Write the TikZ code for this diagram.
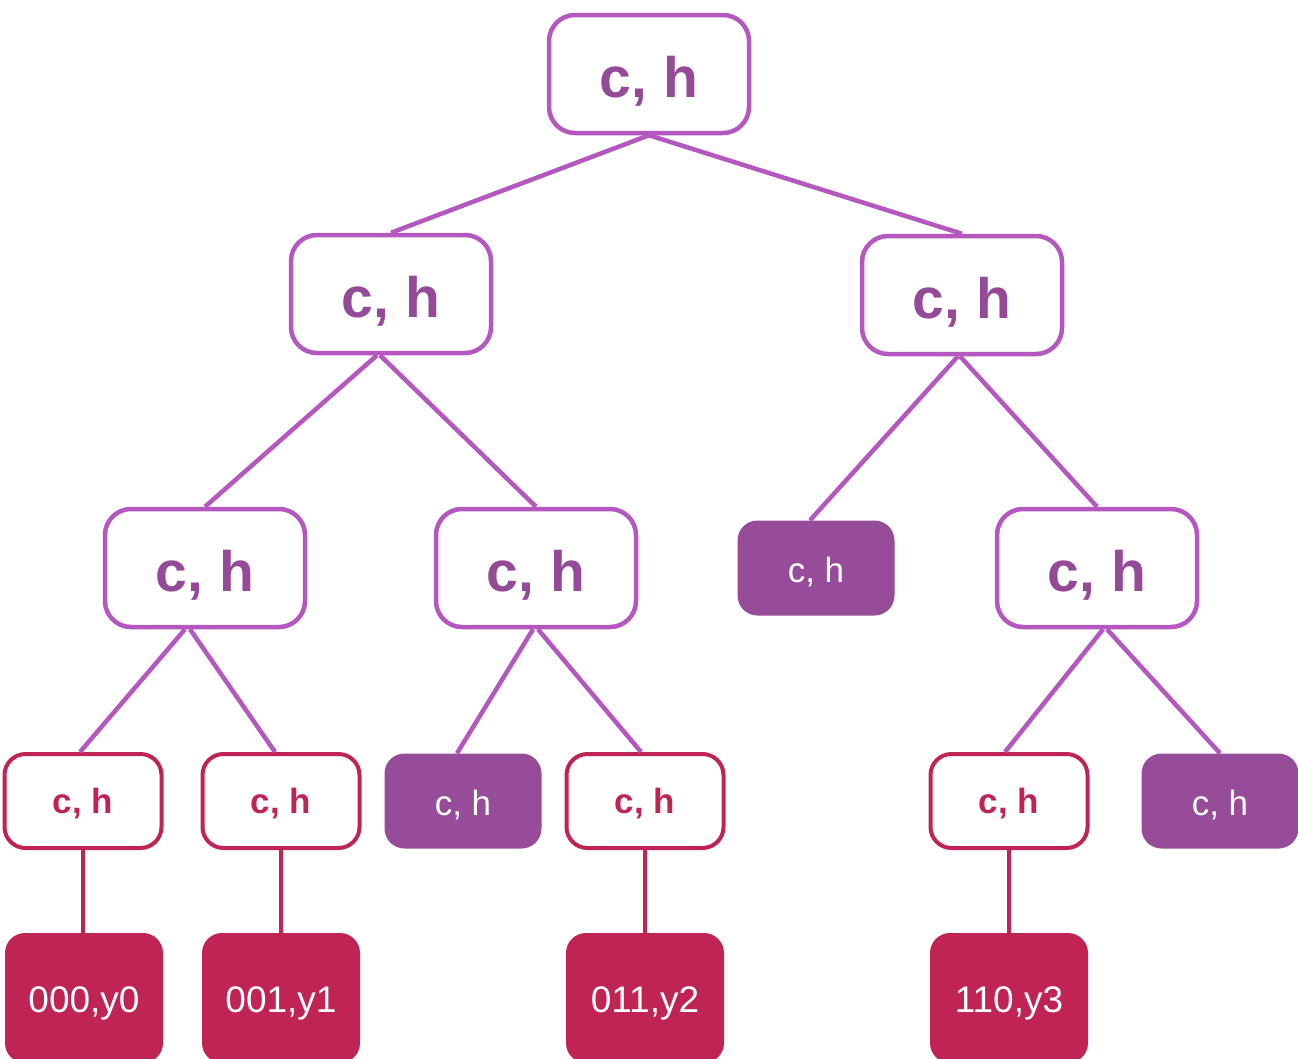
\documentclass[tikz,border=0pt]{standalone}
\usepackage{fontspec}
\setmainfont{Liberation Sans}
\definecolor{lineviolet}{HTML}{B457BE}
\definecolor{textviolet}{HTML}{944A96}
\definecolor{fillviolet}{HTML}{964C98}
\definecolor{crimson}{HTML}{C02454}
\tikzset{
  bigbox/.style={draw=lineviolet, line width=4.5pt, rounded corners=26pt, fill=white,
    minimum width=200pt, minimum height=118pt, inner sep=0pt,
    text height=46pt, text depth=0pt,
    text=textviolet, font=\fontsize{57}{57}\selectfont\bfseries},
  violetleaf/.style={fill=fillviolet, rounded corners=20pt,
    minimum width=157pt, minimum height=95pt, inner sep=0pt,
    text height=28pt, text depth=0pt,
    text=white, font=\fontsize{35}{35}\selectfont},
  smallbox/.style={draw=crimson, line width=4pt, rounded corners=21pt, fill=white,
    minimum width=157pt, minimum height=94pt, inner sep=0pt,
    text height=25pt, text depth=0pt,
    text=crimson, font=\fontsize{35}{35}\selectfont\bfseries},
  valbox/.style={fill=crimson, rounded corners=20pt,
    minimum width=158pt, minimum height=130pt, inner sep=0pt,
    text height=28pt, text depth=0pt,
    text=white, font=\fontsize{37}{37}\selectfont},
  violetedge/.style={draw=lineviolet, line width=4.5pt},
  crimsonedge/.style={draw=crimson, line width=4.5pt},
}
\begin{document}
\begin{tikzpicture}[x=1pt,y=-1pt]
\useasboundingbox (0,0) rectangle (1298,1058);
\clip (0,0) rectangle (1298,1058);
\fill[white] (0,0) rectangle (1298,1058);

% internal nodes
\node[bigbox] (r)  at (649,74)  {c, h};
\node[bigbox] (l)  at (391,294) {c, h};
\node[bigbox] (rr) at (962,295) {c, h};
\node[bigbox] (a)  at (205,568) {c, h};
\node[bigbox] (b)  at (536,568) {c, h};
\node[violetleaf] (c) at (816,568) {c, h};
\node[bigbox] (d)  at (1097,568) {c, h};

% lowest hash level
\node[smallbox] (a1) at (83,801)   {c, h};
\node[smallbox] (a2) at (281,801)  {c, h};
\node[violetleaf] (b1) at (463,801) {c, h};
\node[smallbox] (b2) at (645,801)  {c, h};
\node[smallbox] (d1) at (1009,801) {c, h};
\node[violetleaf] (d2) at (1220,801) {c, h};

% stored values
\node[valbox] (v0) at (84,998)   {000,y0};
\node[valbox] (v1) at (281,998)  {001,y1};
\node[valbox] (v2) at (645,998)  {011,y2};
\node[valbox] (v3) at (1009,998) {110,y3};

% tree edges
\draw[violetedge] (r.south) -- (l.north);
\draw[violetedge] (r.south) -- (rr.north);
\draw[violetedge] ([xshift=-14pt]l.south) -- (a.north);
\draw[violetedge] ([xshift=-11pt]l.south) -- (b.north);
\draw[violetedge] ([xshift=-4pt]rr.south) -- ([xshift=-6pt]c.north);
\draw[violetedge] ([xshift=-2pt]rr.south) -- (d.north);
\draw[violetedge] ([xshift=-20pt]a.south) -- ([xshift=-3pt]a1.north);
\draw[violetedge] ([xshift=-15pt]a.south) -- ([xshift=-6pt]a2.north);
\draw[violetedge] ([xshift=-3pt]b.south) -- ([xshift=-6pt]b1.north);
\draw[violetedge] ([xshift=2pt]b.south) -- ([xshift=-4pt]b2.north);
\draw[violetedge] ([xshift=6pt]d.south) -- ([xshift=-4pt]d1.north);
\draw[violetedge] ([xshift=10pt]d.south) -- (d2.north);
\draw[crimsonedge] (a1.south) -- (a1.south |- v0.north);
\draw[crimsonedge] (a2.south) -- (a2.south |- v1.north);
\draw[crimsonedge] (b2.south) -- (b2.south |- v2.north);
\draw[crimsonedge] (d1.south) -- (d1.south |- v3.north);
\end{tikzpicture}
\end{document}
